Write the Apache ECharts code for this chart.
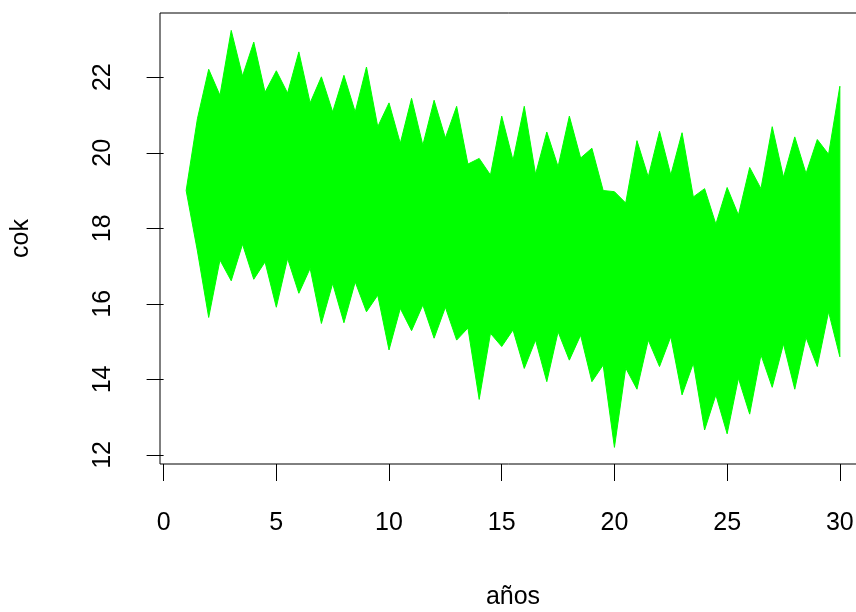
<!DOCTYPE html>
<html>
<head>
<meta charset="utf-8">
<script src="https://cdn.jsdelivr.net/npm/echarts@6/dist/echarts.min.js"></script>
<style>
  html, body { margin: 0; padding: 0; background: #fff; }
  #chart { width: 856px; height: 612px; }
</style>
</head>
<body>
<div id="chart"></div>
<script>
  // años 1..30
  var anos = [1, 2, 3, 4, 5, 6, 7, 8, 9, 10, 11, 12, 13, 14, 15,
              16, 17, 18, 19, 20, 21, 22, 23, 24, 25, 26, 27, 28, 29, 30]
  // envolvente superior de las trayectorias (en cada año)
  var superior = [19.0, 22.21, 23.24, 22.93, 22.17, 22.67, 22.01, 22.05, 22.27, 21.32,
                  21.44, 21.39, 21.23, 19.85, 20.97, 21.23, 20.55, 20.97, 20.12, 18.97,
                  20.32, 20.57, 20.53, 19.05, 19.08, 19.61, 20.69, 20.42, 20.35, 21.76]
  // valles de la envolvente superior entre años consecutivos
  var superiorValle = [20.9, 21.52, 22.03, 21.6, 21.58, 21.32, 21.08, 21.08, 20.69, 20.25,
                       20.2, 20.39, 19.7, 19.41, 19.8, 19.43, 19.63, 19.86, 19.0, 18.67,
                       19.36, 19.41, 18.83, 18.11, 18.35, 19.05, 19.35, 19.45, 19.96]
  // envolvente inferior (en cada año)
  var inferior = [19.0, 15.64, 16.61, 16.65, 15.91, 16.28, 15.48, 15.5, 15.79, 14.78,
                  15.29, 15.09, 15.04, 13.47, 14.87, 14.29, 13.94, 14.51, 13.94, 12.2,
                  13.74, 14.34, 13.59, 12.66, 12.56, 13.08, 13.79, 13.74, 14.34, 14.6]
  // picos de la envolvente inferior entre años consecutivos
  var inferiorPico = [17.4, 17.16, 17.58, 17.11, 17.2, 16.94, 16.54, 16.58, 16.23, 15.88,
                      15.97, 15.91, 15.36, 15.22, 15.31, 15.04, 15.26, 15.17, 14.38, 14.3,
                      15.04, 15.13, 14.43, 13.59, 14.03, 14.65, 14.94, 15.11, 15.79]
  var xTicks = [0, 5, 10, 15, 20, 25, 30]
  var yTicks = [12, 14, 16, 18, 20, 22]

  // contorno de la banda: arriba de izquierda a derecha, abajo de vuelta
  var arriba = [], abajo = []
  for (var i = 0; i < anos.length; i++) {
    arriba.push([anos[i], superior[i]])
    abajo.push([anos[i], inferior[i]])
    if (i < anos.length - 1) {
      arriba.push([anos[i] + 0.5, superiorValle[i]])
      abajo.push([anos[i] + 0.5, inferiorPico[i]])
    }
  }
  var contorno = arriba.concat(abajo.slice().reverse())

  var verde = '#00ff00'
  var fuente = 'Liberation Sans, Arial, sans-serif'
  var myChart = echarts.init(document.getElementById('chart'))
  var option = {
    backgroundColor: '#fff',
    animation: false,
    grid: {
      left: 160, top: 13, width: 706, height: 451,
      outerBoundsMode: 'none', containLabel: false,
      show: true, borderColor: '#000', borderWidth: 1, backgroundColor: 'transparent'
    },
    xAxis: {
      type: 'value',
      min: -0.16, max: 31.16,
      name: 'años', nameLocation: 'middle', nameGap: 121,
      nameTextStyle: { fontFamily: fuente, fontSize: 25, color: '#000' },
      axisLine: { show: false },
      splitLine: { show: false },
      axisTick: { show: true, length: 17, lineStyle: { color: '#000' }, customValues: xTicks },
      axisLabel: { fontFamily: fuente, fontSize: 25, color: '#000', margin: 47, customValues: xTicks }
    },
    yAxis: {
      type: 'value',
      min: 11.76, max: 23.7,
      name: 'cok', nameLocation: 'middle', nameGap: 126, nameRotate: 90,
      nameTextStyle: { fontFamily: fuente, fontSize: 25, color: '#000' },
      axisLine: { show: false },
      splitLine: { show: false },
      axisTick: { show: true, length: 17, lineStyle: { color: '#000' }, customValues: yTicks },
      axisLabel: { fontFamily: fuente, fontSize: 25, color: '#000', rotate: 90, margin: 44, customValues: yTicks }
    },
    series: [
      {
        name: 'trayectorias',
        type: 'custom',
        data: contorno,
        renderItem: function (params, api) {
          if (params.dataIndex !== 0) return
          var pts = contorno.map(function (p) { return api.coord(p) })
          return {
            type: 'polygon',
            shape: { points: pts },
            style: { fill: verde, stroke: verde, lineWidth: 1 }
          }
        }
      }
    ]
  }
  myChart.setOption(option)
</script>
</body>
</html>
